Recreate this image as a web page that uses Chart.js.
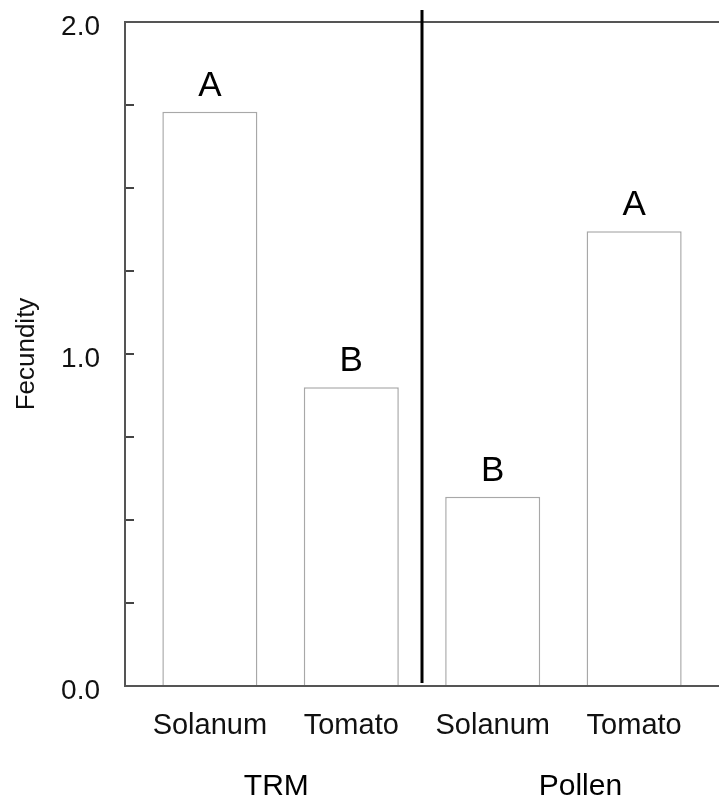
<!DOCTYPE html>
<html>
<head>
<meta charset="utf-8">
<script src="https://cdn.jsdelivr.net/npm/chart.js@4.4.1/dist/chart.umd.min.js"></script>
<style>
  html, body { margin: 0; padding: 0; background: #fff; }
  #wrap { width: 719px; height: 798px; }
</style>
</head>
<body>
<div id="wrap"><canvas id="fecundityChart"></canvas></div>
<script>
// ---- Data ----
const categories = ['Solanum', 'Tomato', 'Solanum', 'Tomato'];
const fecundity = [1.73, 0.90, 0.57, 1.37];
const letters = ['A', 'B', 'B', 'A'];
const groups = ['TRM', 'Pollen'];
const groupCenters = [0.47, 2.62];   // x positions (category units) of group labels
const dividerAt = 1.5;
const yTickLabels = [0, 1, 2];

const FONT = "'Liberation Sans', Arial, sans-serif";

// ---- Annotations: divider, letters, group labels, top frame ----
const annotations = {
    id: 'annotations',
    afterDraw(chart) {
        const { ctx, chartArea, scales: { x, y } } = chart;
        ctx.save();

        // top frame line
        ctx.strokeStyle = '#555';
        ctx.lineWidth = 2;
        ctx.beginPath();
        ctx.moveTo(chartArea.left, chartArea.top);
        ctx.lineTo(chartArea.right, chartArea.top);
        ctx.stroke();

        // divider between groups
        const dx = x.getPixelForValue(dividerAt);
        ctx.strokeStyle = '#000';
        ctx.lineWidth = 3;
        ctx.beginPath();
        ctx.moveTo(dx, chartArea.top - 12);
        ctx.lineTo(dx, chartArea.bottom - 3);
        ctx.stroke();

        // significance letters
        ctx.fillStyle = '#000';
        ctx.font = `35px ${FONT}`;
        ctx.textAlign = 'center';
        ctx.textBaseline = 'alphabetic';
        letters.forEach((t, i) => {
            ctx.fillText(t, x.getPixelForValue(i), y.getPixelForValue(fecundity[i]) - 16);
        });

        // group labels
        ctx.font = `30px ${FONT}`;
        groups.forEach((g, i) => {
            ctx.fillText(g, x.getPixelForValue(groupCenters[i]), chartArea.bottom + 109);
        });
        ctx.restore();
    }
};

// ---- Chart ----
new Chart(document.getElementById('fecundityChart'), {
    type: 'bar',
    data: {
        datasets: [{
            label: 'Fecundity',
            data: fecundity.map((v, i) => ({ x: i, y: v })),
            backgroundColor: '#fff',
            borderColor: '#a8a8a8',
            borderWidth: 1.5,
            borderSkipped: 'bottom',
            barPercentage: 0.672,
            categoryPercentage: 1,
        }]
    },
    options: {
        responsive: true,
        maintainAspectRatio: false,
        animation: false,
        layout: { padding: { top: 22, right: 0, left: 0, bottom: 0 } },
        plugins: {
            legend: { display: false },
            tooltip: { enabled: false },
        },
        scales: {
            x: {
                type: 'linear',
                min: -0.6,
                max: 3.6,
                offset: false,
                afterBuildTicks: s => { s.ticks = categories.map((_, i) => ({ value: i })); },
                afterFit: s => { s.height = 112; s.paddingLeft = 0; s.paddingRight = 0; },
                grid: { display: false, offset: false },
                border: { display: true, color: '#555', width: 2 },
                ticks: {
                    autoSkip: false,
                    maxRotation: 0,
                    padding: 15,
                    color: '#111',
                    font: { family: FONT, size: 29 },
                    callback: v => categories[v] ?? ''
                }
            },
            y: {
                min: 0,
                max: 2,
                afterFit: s => { s.width = 125; s.paddingTop = 0; s.paddingBottom = 0; },
                grid: {
                    drawOnChartArea: false,
                    drawTicks: true,
                    tickLength: -9,
                    color: '#444',
                    lineWidth: 2,
                },
                border: { display: true, color: '#555', width: 2 },
                ticks: {
                    stepSize: 0.25,
                    autoSkip: false,
                    padding: 34,
                    labelOffset: 5,
                    color: '#111',
                    font: { family: FONT, size: 28 },
                    callback: v => yTickLabels.includes(v) ? v.toFixed(1) : ''
                },
                title: {
                    display: true,
                    text: 'Fecundity',
                    color: '#111',
                    padding: { top: 11, bottom: 0 },
                    font: { family: FONT, size: 26 }
                }
            }
        }
    },
    plugins: [annotations]
});
</script>
</body>
</html>
